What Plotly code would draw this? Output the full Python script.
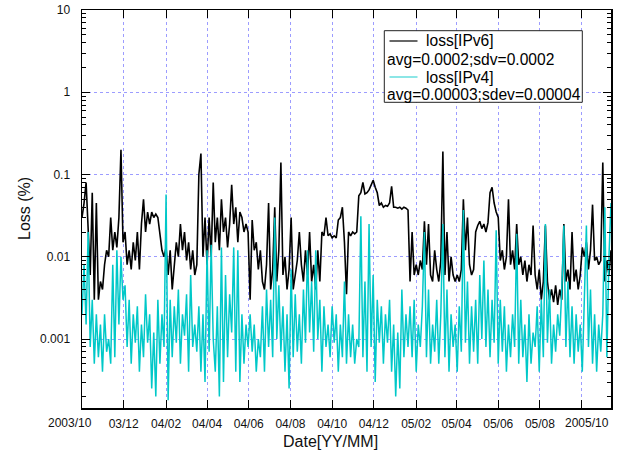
import plotly.graph_objects as go
import pandas as pd
import math

# ---------------- data ----------------
start_date = "2003-10-01"
step_days = 3
end_date = "2005-11-13"

loss_ipv6 = [
    0.03, 0.045, 0.08, 0.02, 0.006, 0.06, 0.003, 0.045, 0.003, 0.005,
    0.004, 0.008, 0.012, 0.01, 0.03, 0.012, 0.02, 0.013, 0.03, 0.2,
    0.015, 0.02, 0.008, 0.012, 0.007, 0.015, 0.009, 0.02, 0.007, 0.025,
    0.05, 0.02, 0.035, 0.025, 0.035, 0.03, 0.033, 0.03, 0.02, 0.012,
    0.01, 0.013, 0.006, 0.012, 0.004, 0.008, 0.015, 0.01, 0.025, 0.012,
    0.02, 0.009, 0.015, 0.007, 0.012, 0.006, 0.008, 0.1, 0.18, 0.01,
    0.03, 0.008, 0.03, 0.01, 0.08, 0.015, 0.03, 0.012, 0.05, 0.02,
    0.03, 0.013, 0.025, 0.075, 0.025, 0.04, 0.015, 0.035, 0.03, 0.02,
    0.025, 0.02, 0.003, 0.028, 0.012, 0.015, 0.007, 0.012, 0.005, 0.004,
    0.008, 0.045, 0.004, 0.007, 0.04, 0.005, 0.012, 0.14, 0.006, 0.01,
    0.004, 0.007, 0.03, 0.004, 0.006, 0.009, 0.02, 0.008, 0.005, 0.012,
    0.006, 0.02, 0.005, 0.008, 0.004, 0.012, 0.005, 0.02, 0.018, 0.03,
    0.018, 0.019, 0.017, 0.018, 0.017, 0.028, 0.03, 0.04, 0.015, 0.0035,
    0.02, 0.018, 0.02, 0.019, 0.02, 0.055, 0.06, 0.08, 0.058, 0.06,
    0.065, 0.075, 0.085, 0.07, 0.06, 0.042, 0.045, 0.04, 0.042, 0.041,
    0.045, 0.072, 0.04, 0.04, 0.039, 0.04, 0.038, 0.04, 0.039, 0.037,
    0.005, 0.02, 0.006, 0.008, 0.006, 0.009, 0.007, 0.027, 0.008, 0.025,
    0.006, 0.005, 0.012, 0.007, 0.005, 0.009, 0.19, 0.006, 0.02, 0.005,
    0.01, 0.006, 0.005, 0.006, 0.005, 0.007, 0.05, 0.012, 0.03, 0.008,
    0.006, 0.007, 0.02, 0.024, 0.027, 0.022, 0.025, 0.02, 0.026, 0.06,
    0.07, 0.045, 0.035, 0.03, 0.009, 0.012, 0.007, 0.01, 0.05, 0.008,
    0.012, 0.007, 0.025, 0.008, 0.01, 0.006, 0.009, 0.005, 0.008, 0.006,
    0.024, 0.006, 0.004, 0.007, 0.003, 0.005, 0.024, 0.005, 0.003, 0.004,
    0.0028, 0.0045, 0.0026, 0.004, 0.003, 0.025, 0.005, 0.007, 0.004, 0.02,
    0.005, 0.007, 0.004, 0.006, 0.013, 0.01, 0.015, 0.007, 0.012, 0.043,
    0.009, 0.01, 0.008, 0.009, 0.14, 0.005, 0.009, 0.006, 0.012,
]

loss_ipv4 = [
    0.002, 0.008, 0.0015, 0.02, 0.0008, 0.003, 0.0005, 0.002, 0.0006, 0.0015,
    0.0004, 0.002, 0.0007, 0.001, 0.0005, 0.008, 0.0006, 0.012, 0.0015, 0.01,
    0.003, 0.0045, 0.0008, 0.003, 0.0005, 0.002, 0.0009, 0.0025, 0.0004, 0.0015,
    0.0006, 0.0035, 0.0009, 0.002, 0.00025, 0.0012, 0.0002, 0.003, 0.0005, 0.002,
    0.0008, 0.057, 0.00018, 0.003, 0.0006, 0.0025, 0.0009, 0.004, 0.0005, 0.002,
    0.0011, 0.0035, 0.0004, 0.006, 0.0008, 0.0015, 0.0007, 0.0025, 0.0004, 0.002,
    0.0003, 0.012, 0.0007, 0.014, 0.001, 0.0004, 0.0025, 0.0002, 0.013, 0.0003,
    0.006, 0.0006, 0.0035, 0.0012, 0.013, 0.0004, 0.012, 0.0003, 0.002, 0.0005,
    0.0015, 0.0008, 0.002, 0.0007, 0.0015, 0.0004, 0.001, 0.0006, 0.0025, 0.0004,
    0.004, 0.0008, 0.003, 0.0006, 0.03, 0.001, 0.0045, 0.0007, 0.0025, 0.0004,
    0.002, 0.00025, 0.007, 0.0006, 0.0035, 0.0007, 0.002, 0.0005, 0.004, 0.0009,
    0.012, 0.0012, 0.005, 0.0007, 0.012, 0.001, 0.003, 0.0004, 0.0025, 0.0008,
    0.0015, 0.0006, 0.0025, 0.0009, 0.002, 0.0004, 0.0015, 0.0006, 0.005, 0.0005,
    0.002, 0.0006, 0.0015, 0.0005, 0.001, 0.0008, 0.031, 0.0006, 0.005, 0.0004,
    0.025, 0.0008, 0.006, 0.0003, 0.003, 0.0009, 0.0025, 0.0005, 0.002, 0.0009,
    0.003, 0.0004, 0.0015, 0.0002, 0.0012, 0.00025, 0.004, 0.0006, 0.002, 0.0008,
    0.0025, 0.0006, 0.003, 0.0004, 0.0015, 0.0008, 0.0025, 0.02, 0.0006, 0.004,
    0.0005, 0.0015, 0.0007, 0.003, 0.0005, 0.002, 0.025, 0.0006, 0.004, 0.0004,
    0.002, 0.0008, 0.0015, 0.0004, 0.0025, 0.0007, 0.037, 0.0009, 0.005, 0.0005,
    0.0025, 0.0007, 0.003, 0.0005, 0.006, 0.001, 0.009, 0.0008, 0.004, 0.0006,
    0.003, 0.0009, 0.021, 0.0005, 0.003, 0.0007, 0.0025, 0.0004, 0.0015, 0.0006,
    0.002, 0.0008, 0.019, 0.0005, 0.003, 0.0006, 0.0015, 0.0003, 0.002, 0.0005,
    0.0012, 0.0008, 0.0025, 0.0004, 0.003, 0.0006, 0.025, 0.0009, 0.004, 0.0005,
    0.0015, 0.0007, 0.002, 0.0011, 0.004, 0.024, 0.0008, 0.005, 0.0006, 0.0025,
    0.0005, 0.002, 0.0007, 0.0015, 0.0004, 0.0025, 0.024, 0.0008, 0.004, 0.0005,
    0.002, 0.0004, 0.0015, 0.0007, 0.002, 0.04, 0.0006, 0.01, 0.045,
]

tick_dates = ["2003-10-01", "2003-12-01", "2004-02-01", "2004-04-01", "2004-06-01",
              "2004-08-01", "2004-10-01", "2004-12-01", "2005-02-01", "2005-04-01",
              "2005-06-01", "2005-08-01", "2005-10-01"]
tick_labels = ["2003/10", "03/12", "04/02", "04/04", "04/06", "04/08", "04/10",
               "04/12", "05/02", "05/04", "05/06", "05/08", "2005/10"]

y_tickvals = [0.001, 0.01, 0.1, 1, 10]
y_ticktext = ["0.001", "0.01", "0.1", "1", "10"]
y_min, y_max = 0.000145, 10

series_names = ["loss[IPv6]", "loss[IPv4]"]
series_stats = ["avg=0.0002;sdv=0.0002", "avg=0.00003;sdev=0.00004"]
x_title = "Date[YY/MM]"
y_title = "Loss (%)"

# ---------------- figure ----------------
W, H = 621, 460
ML, MR, MT, MB = 82, 10, 10, 52
PW, PH = W - ML - MR, H - MT - MB


def px(xp):
    return (xp - ML) / PW


def py(yp):
    return (H - MB - yp) / PH


FONT = "Liberation Sans, Arial, Helvetica, sans-serif"
BLACK = "#000000"
CYAN = "#00c8c8"
CYAN_LEG = "#3fd6d6"
GRID = "#9c9cff"
TXT = "#111111"

dates = pd.date_range(start_date, periods=len(loss_ipv6), freq=f"{step_days}D")

fig = go.Figure()
fig.add_trace(go.Scatter(x=dates, y=loss_ipv6, mode="lines",
                         line=dict(color=BLACK, width=1.6), name=series_names[0],
                         showlegend=False, hoverinfo="skip"))
fig.add_trace(go.Scatter(x=dates, y=loss_ipv4, mode="lines",
                         line=dict(color=CYAN, width=1.5), name=series_names[1],
                         showlegend=False, hoverinfo="skip"))

# first and last labels are drawn offset (as in the reference) as annotations
ticktext = list(tick_labels)
ticktext[0] = ""
ticktext[-1] = ""

axis_common = dict(
    showline=True, linecolor=BLACK, linewidth=1.5, mirror="allticks",
    ticks="inside", ticklen=8, tickwidth=1, tickcolor=BLACK,
    showgrid=True, gridcolor=GRID, griddash="dot", gridwidth=1,
    tickfont=dict(family=FONT, size=12, color=TXT),
    zeroline=False, layer="above traces",
)

fig.update_xaxes(type="date", range=[start_date, end_date],
                 tickmode="array", tickvals=tick_dates, ticktext=ticktext,
                 tickangle=0, ticklabelstandoff=4, **axis_common)

minor_vals = [m * 10 ** e for e in range(-4, 1) for m in range(2, 10)]
fig.update_yaxes(type="log", range=[math.log10(y_min), math.log10(y_max)],
                 tickmode="array", tickvals=y_tickvals, ticktext=y_ticktext,
                 ticklabelstandoff=8,
                 minor=dict(tickmode="array", tickvals=minor_vals, ticks="inside",
                            ticklen=4, tickcolor=BLACK, tickwidth=1, showgrid=False),
                 **axis_common)

shapes = []
annotations = []

# edge tick labels
for lbl, xc in [(tick_labels[0], 69.5), (tick_labels[-1], 586.5)]:
    annotations.append(dict(text=lbl, xref="paper", yref="paper", x=px(xc), y=py(422.5),
                            xanchor="center", yanchor="middle", showarrow=False,
                            font=dict(family=FONT, size=12, color=TXT)))

# legend box
shapes.append(dict(type="rect", xref="paper", yref="paper",
                   x0=px(384.3), x1=px(582.3), y0=py(102.3), y1=py(30.7),
                   fillcolor="white", line=dict(color="#222222", width=1), layer="above"))
leg_rows = [41, 59, 77, 95]
shapes.append(dict(type="line", xref="paper", yref="paper",
                   x0=px(389.5), x1=px(417.5), y0=py(leg_rows[0]), y1=py(leg_rows[0]),
                   line=dict(color=BLACK, width=1.2), layer="above"))
shapes.append(dict(type="line", xref="paper", yref="paper",
                   x0=px(389.5), x1=px(417.5), y0=py(leg_rows[2]), y1=py(leg_rows[2]),
                   line=dict(color=CYAN_LEG, width=1.2), layer="above"))
leg_font = dict(family=FONT, size=15.6, color=BLACK)
for text, xx, yy in [(series_names[0], 424, leg_rows[0]), (series_stats[0], 385, leg_rows[1]),
                     (series_names[1], 424, leg_rows[2]), (series_stats[1], 385, leg_rows[3])]:
    annotations.append(dict(text=text, xref="paper", yref="paper", x=px(xx), y=py(yy),
                            xanchor="left", yanchor="middle", showarrow=False,
                            font=leg_font))

# axis titles
annotations.append(dict(text=x_title, xref="paper", yref="paper", x=px(330), y=py(441),
                        xanchor="center", yanchor="middle", showarrow=False,
                        font=dict(family=FONT, size=16, color=TXT)))
annotations.append(dict(text=y_title, xref="paper", yref="paper", x=px(24), y=py(209),
                        xanchor="center", yanchor="middle", showarrow=False, textangle=-90,
                        font=dict(family=FONT, size=16, color=TXT)))

fig.update_layout(
    width=W, height=H,
    margin=dict(l=ML, r=MR, t=MT, b=MB, pad=0, autoexpand=False),
    paper_bgcolor="white", plot_bgcolor="white",
    showlegend=False, hovermode=False,
    shapes=shapes, annotations=annotations,
    font=dict(family=FONT),
)

fig.write_html(
    "out.html",
    config={"displayModeBar": False, "staticPlot": True},
    post_script="document.body.style.margin='0';document.body.style.padding='0';"
                "document.documentElement.style.overflow='hidden';",
)
